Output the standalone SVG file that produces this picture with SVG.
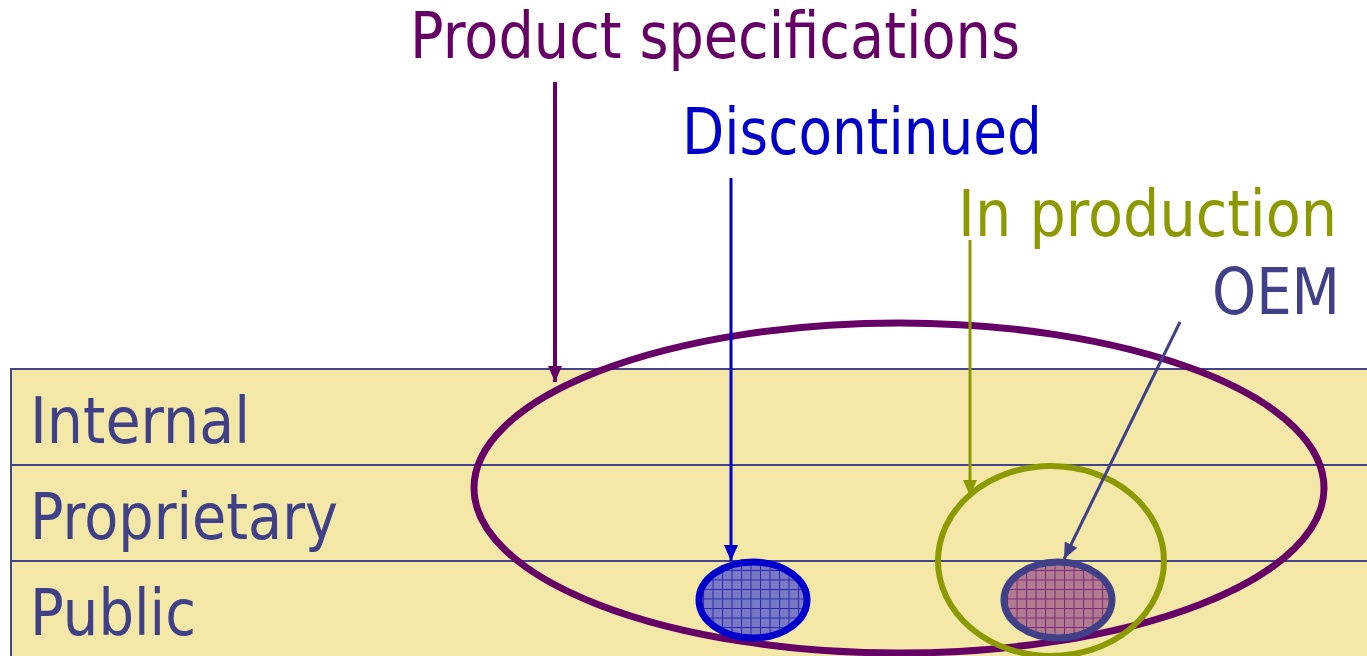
<svg xmlns="http://www.w3.org/2000/svg" width="1367" height="656" viewBox="0 0 1367 656">
<style>
.lbl{font-family:"DejaVu Sans","Verdana",sans-serif;font-size:64px}
.band{fill:#F3E8A8;stroke:#444488;stroke-width:2}
.row{fill:#404088}
</style>
<defs>
<pattern id="gridB" width="9.5" height="9.5" patternUnits="userSpaceOnUse">
<rect width="9.5" height="9.5" fill="#7878C4"/>
<path d="M0 0.5H9.5M0.5 0V9.5" stroke="#2A2AB0" stroke-width="1"/>
</pattern>
<pattern id="gridP" width="9.5" height="9.5" patternUnits="userSpaceOnUse">
<rect width="9.5" height="9.5" fill="#B27A8E"/>
<path d="M0 0.5H9.5M0.5 0V9.5" stroke="#7A2A7A" stroke-width="1"/>
</pattern>
<marker id="aP" markerWidth="16" markerHeight="14" refX="16" refY="7" orient="auto" markerUnits="userSpaceOnUse" viewBox="0 0 16 14"><path d="M0 0L16 7L0 14z" fill="#660066"/></marker>
<marker id="aB" markerWidth="16" markerHeight="14" refX="16" refY="7" orient="auto" markerUnits="userSpaceOnUse" viewBox="0 0 16 14"><path d="M0 0L16 7L0 14z" fill="#0000CC"/></marker>
<marker id="aO" markerWidth="16" markerHeight="14" refX="16" refY="7" orient="auto" markerUnits="userSpaceOnUse" viewBox="0 0 16 14"><path d="M0 0L16 7L0 14z" fill="#8C9900"/></marker>
<marker id="aS" markerWidth="16" markerHeight="14" refX="16" refY="7" orient="auto" markerUnits="userSpaceOnUse" viewBox="0 0 16 14"><path d="M0 0L16 7L0 14z" fill="#404088"/></marker>
</defs>
<rect width="1367" height="656" fill="#FFFFFF"/>
<g id="bands">
<rect class="band" x="11" y="369" width="1360" height="96"/>
<rect class="band" x="11" y="465" width="1360" height="96"/>
<rect class="band" x="11" y="561" width="1360" height="100"/>
<text class="lbl row" x="30" y="443" textLength="220" lengthAdjust="spacingAndGlyphs">Internal</text>
<text class="lbl row" x="30" y="539" textLength="308" lengthAdjust="spacingAndGlyphs">Proprietary</text>
<text class="lbl row" x="30" y="635" textLength="166" lengthAdjust="spacingAndGlyphs">Public</text>
</g>
<g id="product-specifications">
<ellipse cx="899" cy="488" rx="425" ry="165" fill="none" stroke="#660066" stroke-width="7"/>
<text class="lbl" x="410" y="58" fill="#660066" textLength="610" lengthAdjust="spacingAndGlyphs">Product specifications</text>
</g>
<g id="in-production">
<ellipse cx="1051" cy="561" rx="113" ry="95" fill="none" stroke="#8C9900" stroke-width="6"/>
<text class="lbl" x="958" y="236" fill="#8C9900" textLength="379" lengthAdjust="spacingAndGlyphs">In production</text>
</g>
<g id="discontinued">
<ellipse cx="753" cy="600" rx="54" ry="38" fill="url(#gridB)" stroke="#0000CC" stroke-width="7"/>
<text class="lbl" x="682" y="154" fill="#0000CC" textLength="360" lengthAdjust="spacingAndGlyphs">Discontinued</text>
</g>
<g id="oem">
<ellipse cx="1058" cy="600" rx="54" ry="38" fill="url(#gridP)" stroke="#404088" stroke-width="7"/>
<text class="lbl" x="1212" y="314" fill="#404088" textLength="128" lengthAdjust="spacingAndGlyphs">OEM</text>
</g>
<g id="connectors" fill="none">
<line x1="555" y1="82" x2="555" y2="382" stroke="#660066" stroke-width="4" marker-end="url(#aP)"/>
<line x1="731" y1="178" x2="731" y2="561" stroke="#0000CC" stroke-width="3" marker-end="url(#aB)"/>
<line x1="970" y1="240" x2="970" y2="496" stroke="#8C9900" stroke-width="3" marker-end="url(#aO)"/>
<line x1="1180" y1="322" x2="1064" y2="559" stroke="#404088" stroke-width="3" marker-end="url(#aS)"/>
</g>
</svg>
